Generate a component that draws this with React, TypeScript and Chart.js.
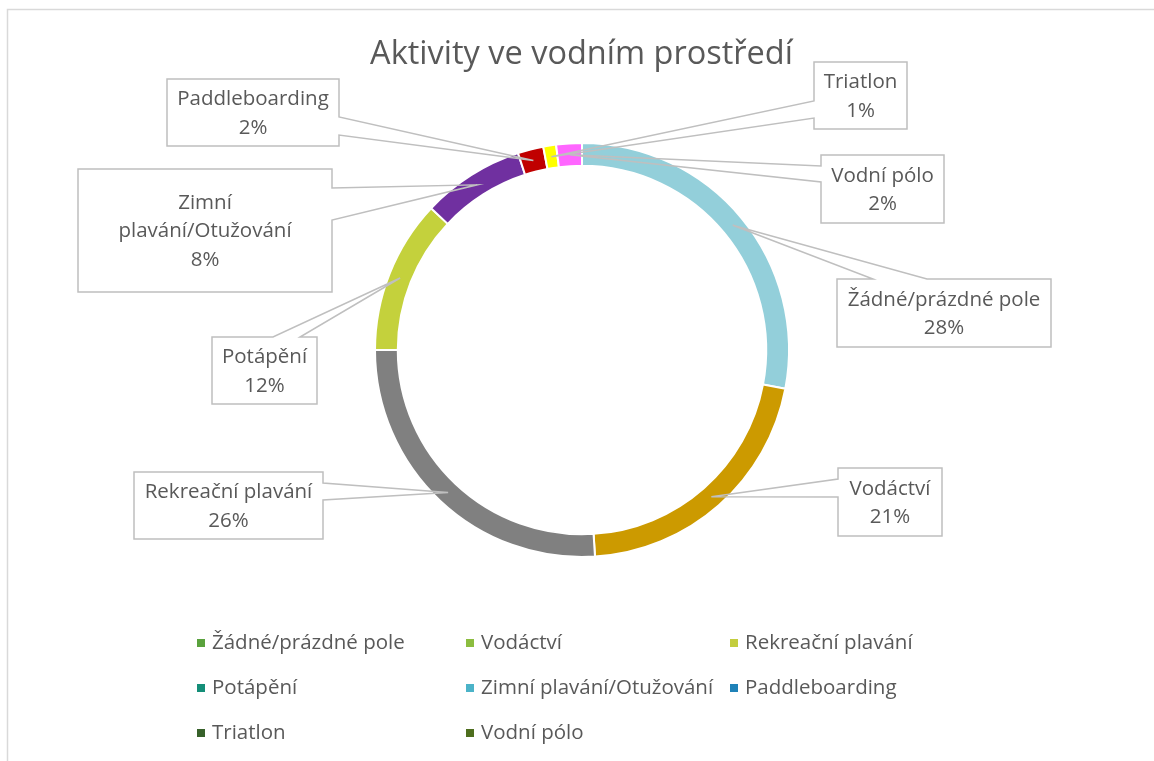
import React, { useEffect, useRef } from "react";
import { Chart, registerables } from "chart.js";

Chart.register(...registerables);

const chartTitle = "Aktivity ve vodním prostředí";
const categories = [
  "Žádné/prázdné pole",
  "Vodáctví",
  "Rekreační plavání",
  "Potápění",
  "Zimní plavání/Otužování",
  "Paddleboarding",
  "Triatlon",
  "Vodní pólo",
];
const values = [28, 21, 26, 12, 8, 2, 1, 2];
const labelLines: string[][] = [
  ["Žádné/prázdné pole"],
  ["Vodáctví"],
  ["Rekreační plavání"],
  ["Potápění"],
  ["Zimní", "plavání/Otužování"],
  ["Paddleboarding"],
  ["Triatlon"],
  ["Vodní pólo"],
];

const sliceColors = ["#93CFDA", "#CC9A00", "#808080", "#C4D13C", "#7030A0", "#C00000", "#FFFF00", "#FF66FF"];
const legendColors = ["#5AA23D", "#8CBD3F", "#C3CD3E", "#148E78", "#4BB3C8", "#1F82B8", "#37612A", "#4E6E1E"];

// layout of the callout boxes (x, y, w, h, side with pointer gap, gap start/end)
const calloutLayout = [
  { x: 837, y: 279, w: 214, h: 68, side: "top", g1: 873, g2: 927 },
  { x: 838, y: 468, w: 104, h: 68, side: "left", g1: 479, g2: 497 },
  { x: 134, y: 472, w: 189, h: 67, side: "right", g1: 483, g2: 500 },
  { x: 212, y: 337, w: 105, h: 67, side: "top", g1: 273, g2: 300 },
  { x: 78, y: 169, w: 254, h: 123, side: "right", g1: 188, g2: 220 },
  { x: 167, y: 79, w: 172, h: 67, side: "right", g1: 117, g2: 135 },
  { x: 814, y: 62, w: 93, h: 67, side: "left", g1: 101, g2: 118 },
  { x: 821, y: 155, w: 123, h: 68, side: "left", g1: 166, g2: 182 },
];

const legendCols = [197, 466, 730];
const legendRows = [643, 688, 733];

const FONT = "'Open Sans', 'DejaVu Sans', sans-serif";
const TEXT = "#595959";

const decorPlugin = {
  id: "decor",
  beforeDraw(chart: any) {
    const ctx = chart.ctx;
    ctx.save();
    ctx.fillStyle = "#fff";
    ctx.fillRect(0, 0, chart.width, chart.height);
    ctx.strokeStyle = "#D9D9D9";
    ctx.lineWidth = 1.5;
    ctx.beginPath();
    ctx.moveTo(7.5, chart.height + 2);
    ctx.lineTo(7.5, 9.5);
    ctx.lineTo(chart.width + 2, 9.5);
    ctx.stroke();
    // title
    ctx.fillStyle = TEXT;
    ctx.font = `32.5px ${FONT}`;
    ctx.textAlign = "center";
    ctx.textBaseline = "alphabetic";
    ctx.fillText(chartTitle, 581.5, 64);
    ctx.restore();
  },
  afterDatasetsDraw(chart: any) {
    const ctx = chart.ctx;
    const meta = chart.getDatasetMeta(0);
    ctx.save();
    meta.data.forEach((arc: any, i: number) => {
      const b = calloutLayout[i];
      const p = arc.tooltipPosition();
      const { x, y, w, h, side, g1, g2 } = b;
      ctx.fillStyle = "#fff";
      ctx.fillRect(x, y, w, h);
      ctx.beginPath();
      ctx.moveTo(x, y);
      if (side === "top") {
        ctx.lineTo(g1, y);
        ctx.lineTo(p.x, p.y);
        ctx.lineTo(g2, y);
      }
      ctx.lineTo(x + w, y);
      if (side === "right") {
        ctx.lineTo(x + w, g1);
        ctx.lineTo(p.x, p.y);
        ctx.lineTo(x + w, g2);
      }
      ctx.lineTo(x + w, y + h);
      ctx.lineTo(x, y + h);
      if (side === "left") {
        ctx.lineTo(x, g2);
        ctx.lineTo(p.x, p.y);
        ctx.lineTo(x, g1);
      }
      ctx.closePath();
      ctx.strokeStyle = "#BFBFBF";
      ctx.lineWidth = 1.5;
      ctx.lineJoin = "miter";
      ctx.stroke();

      const lines = [...labelLines[i], `${chart.data.datasets[0].data[i]}%`];
      const lh = 28.5;
      const cy = y + h / 2;
      ctx.fillStyle = TEXT;
      ctx.font = `20.5px ${FONT}`;
      ctx.textAlign = "center";
      ctx.textBaseline = "middle";
      lines.forEach((t, k) => {
        ctx.fillText(t, x + w / 2, cy + (k - (lines.length - 1) / 2) * lh + 1);
      });
    });
    ctx.restore();
  },
  afterDraw(chart: any) {
    const ctx = chart.ctx;
    ctx.save();
    ctx.font = `20.5px ${FONT}`;
    ctx.textBaseline = "middle";
    ctx.textAlign = "left";
    chart.data.labels.forEach((lab: string, i: number) => {
      const cx = legendCols[i % 3];
      const cy = legendRows[Math.floor(i / 3)];
      ctx.fillStyle = legendColors[i];
      ctx.fillRect(cx, cy - 4, 8, 8);
      ctx.fillStyle = TEXT;
      ctx.fillText(lab, cx + 15, cy);
    });
    ctx.restore();
  },
};

export default function App() {
  const ref = useRef<HTMLCanvasElement>(null);
  useEffect(() => {
    if (!ref.current) return;
    const chart = new Chart(ref.current, {
      type: "doughnut",
      data: {
        labels: categories,
        datasets: [
          {
            data: values,
            backgroundColor: sliceColors,
            borderColor: "#ffffff",
            borderWidth: 2,
          },
        ],
      },
      options: {
        responsive: false,
        maintainAspectRatio: false,
        animation: false,
        cutout: "89%",
        layout: { padding: { left: 374, right: 364, top: 142, bottom: 203 } },
        plugins: {
          legend: { display: false },
          title: { display: false },
          tooltip: { enabled: false },
        },
      },
      plugins: [decorPlugin],
    } as any);
    return () => chart.destroy();
  }, []);
  return (
    <div style={{ position: "absolute", left: 0, top: 0, width: 1154, height: 761 }}>
      <canvas ref={ref} width={1154} height={761} style={{ display: "block" }} />
    </div>
  );
}
